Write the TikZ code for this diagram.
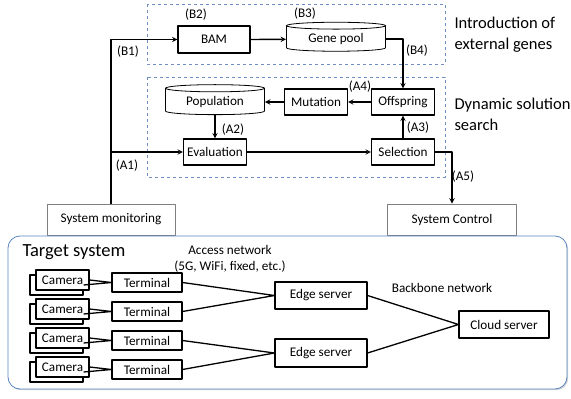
\documentclass[tikz,border=0pt]{standalone}
\usepackage{fontspec}
\setmainfont{Carlito}
\usetikzlibrary{shapes.geometric,shadows}
\definecolor{dashblue}{HTML}{6F8FC4}
\definecolor{frameblue}{HTML}{5A86C0}
\begin{document}
\begin{tikzpicture}[x=1pt,y=-1pt,>=stealth,line join=round,font=\fontsize{13.2}{15}\selectfont,
  box/.style={draw,line width=1.1pt,fill=white,minimum width=63pt,minimum height=26pt,inner sep=1pt},
  drum/.style={draw,line width=0.8pt,fill=white,cylinder,shape border rotate=90,aspect=0.12,inner sep=1pt},
  graybox/.style={draw=black!50,line width=0.8pt,minimum width=128pt,minimum height=31pt},
  flow/.style={->,line width=1.4pt},
  link/.style={line width=1.3pt},
  big/.style={font=\fontsize{16.5}{21}\selectfont,align=left,anchor=west}]
\useasboundingbox (0,0) rectangle (571,399);
% dashed frames
\draw[dashblue,dashed,line width=0.6pt] (147,4) rectangle (445,64) (147,77) rectangle (445,177);
\node[big] (intro) at (451,35) {Introduction of\\external genes};
\node[big] (dyn) at (451,114.5) {Dynamic solution\\search};
% upper loop
\node[box,minimum width=72pt,minimum height=27pt] (bam) at (214,39.5) {BAM};
\node[drum,minimum width=99pt,minimum height=29pt] (gene) at (336,39) {Gene pool};
\node[drum,minimum width=99pt,minimum height=30pt] (pop) at (215,102) {Population};
\node[box] (mut) at (316,102) {Mutation};
\node[box] (off) at (403,102) {Offspring};
\node[box] (eva) at (215,152) {Evaluation};
\node[box] (sel) at (403,152) {Selection};
\node[graybox] (mon) at (111,219.5) {System monitoring};
\node[graybox,minimum width=129pt] (ctl) at (452,219.5) {System Control};
\draw[flow] (mon.north) |- (bam.west);
\draw[flow] (mon.north|-eva) -- (eva.west);
\draw[flow] (bam.east) -- (gene);
\draw[flow] (gene) -| (off.north);
\draw[flow] (off) -- (mut);
\draw[flow] (mut) -- (pop);
\draw[flow] (pop) -- (eva);
\draw[flow] (eva) -- (sel);
\draw[flow] (sel) -- (off);
\draw[flow] (sel.east) -| (ctl.north);
\path (128,52) node (b1) {(B1)} (196,15) node (b2) {(B2)} (305,14) node (b3) {(B3)} (417,51) node (b4) {(B4)}
      (127,166) node (a1) {(A1)} (233,130) node (a2) {(A2)} (418,128) node (a3) {(A3)} (360,87) node (a4) {(A4)} (463,177) node (a5) {(A5)};
% target system
\draw[frameblue,line width=0.8pt,fill=white,rounded corners=12pt,drop shadow={opacity=0.35,shadow xshift=1.2pt,shadow yshift=-1.2pt}] (8,236) rectangle (567,389);
\node[anchor=west,font=\fontsize{18.5}{20}\selectfont] (tgt) at (19,252) {Target system};
\node[align=center,font=\fontsize{13.2}{16}\selectfont] (acc) at (230,259) {Access network\\(5G, WiFi, fixed, etc.)};
\node (bbn) at (442,288) {Backbone network};
\foreach \i/\y in {1/280,2/309,3/338,4/367}{
  \node[box,minimum width=53pt,minimum height=20pt] (cb\i) at (56.5,\y+5) {};
  \node[box,minimum width=53pt,minimum height=20pt] (cam\i) at (62.5,\y) {Camera};
  \node[box,minimum width=70pt,minimum height=19pt] (term\i) at (147,\y+2.5) {Terminal};
  \draw[link] (cam\i.east) -- (term\i.west) (cb\i.east) -- (term\i.west);
}
\node[box,minimum width=92pt,minimum height=27pt] (edge1) at (321,295.5) {Edge server};
\node[box,minimum width=92pt,minimum height=28pt] (edge2) at (321,353) {Edge server};
\node[box,minimum width=90pt,minimum height=27pt] (cloud) at (504,324.5) {Cloud server};
\draw[link] (term1.east) -- (edge1.west) (term2.east) -- (edge1.west)
            (term3.east) -- (edge2.west) (term4.east) -- (edge2.west)
            (edge1.east) -- (cloud.west) (edge2.east) -- (cloud.west);
\end{tikzpicture}
\end{document}
